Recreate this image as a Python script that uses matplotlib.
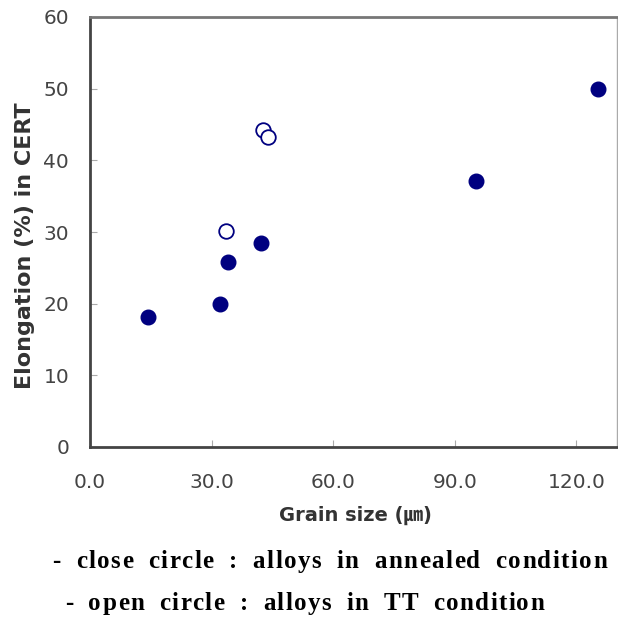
import matplotlib
matplotlib.use('Agg')
import matplotlib.pyplot as plt

# grain size (um) vs elongation (%) in CERT
annealed_x = [14.3, 32.1, 34.1, 42.2, 95.3, 125.4]
annealed_y = [18.1, 19.9, 25.8, 28.5, 37.1, 49.9]
tt_x = [33.6, 42.7, 44.0]
tt_y = [30.1, 44.2, 43.2]

x_ticks = [0, 30, 60, 90, 120]
y_ticks = [0, 10, 20, 30, 40, 50, 60]

caption_1 = '- close circle : alloys in annealed condition'
caption_2 = '- open circle : alloys in TT condition'

navy = '#000080'
grey = '#444444'
W, H = 618, 617

fig = plt.figure(figsize=(W / 100, H / 100), dpi=100)
ax = fig.add_axes([90 / W, 1 - 447 / H, (617 - 90) / W, (447 - 17) / H])

ax.plot(annealed_x, annealed_y, 'o', color=navy, markersize=10.5, linestyle='none')
ax.plot(tt_x, tt_y, 'o', markerfacecolor='white', markeredgecolor=navy,
        markeredgewidth=1.3, markersize=10.5, linestyle='none')

ax.set_xlim(0, 130)
ax.set_ylim(0, 60)
ax.set_xticks(x_ticks)
ax.set_xticklabels(['%.1f' % t for t in x_ticks])
ax.set_yticks(y_ticks)

ax.tick_params(direction='in', length=5, width=0.8, colors='#aaaaaa',
               labelcolor='#444444', labelsize=14.5)
ax.tick_params(axis='x', pad=19)
ax.tick_params(axis='y', pad=15)
for side in ['left', 'bottom']:
    ax.spines[side].set_color(grey)
    ax.spines[side].set_linewidth(2)
ax.spines['top'].set_color('#777777')
ax.spines['top'].set_linewidth(2)
ax.spines['right'].set_color('#aaaaaa')
ax.spines['right'].set_linewidth(1)

label_font = ['DejaVu Sans', 'Noto Sans CJK KR']
ax.set_xlabel('Grain size (\u339b)', fontsize=14, fontweight='bold', color='#333333',
              family=label_font, va='center')
ax.set_ylabel('Elongation (%) in CERT', fontsize=16, fontweight='bold', color='#333333',
              family=label_font, va='center')
ax.xaxis.set_label_coords((355 - 90) / 527, (447 - 515) / 430)
ax.yaxis.set_label_coords((25 - 90) / 527, (447 - 246) / 430)

# captions drawn letter by letter to get the wide tracking of the original
renderer = fig.canvas.get_renderer()


def spaced_text(s, x_left, x_right, y_base, size):
    pieces = []
    for ch in s:
        t = fig.text(0, 1 - y_base / H, ch if ch != ' ' else 'n', fontsize=size,
                     fontweight='bold', family='Liberation Serif', va='baseline')
        pieces.append(t)
    widths = [t.get_window_extent(renderer).width for t in pieces]
    for i, ch in enumerate(s):
        if ch == ' ':
            widths[i] *= 0.9
            pieces[i].set_text('')
    track = (x_right - x_left - sum(widths)) / (len(s) - 1)
    x = x_left
    for t, w in zip(pieces, widths):
        t.set_x(x / W)
        x += w + track


spaced_text(caption_1, 52, 607, 568, 18)
spaced_text(caption_2, 65, 544, 610, 18)

plt.savefig('out.png', dpi=100)
